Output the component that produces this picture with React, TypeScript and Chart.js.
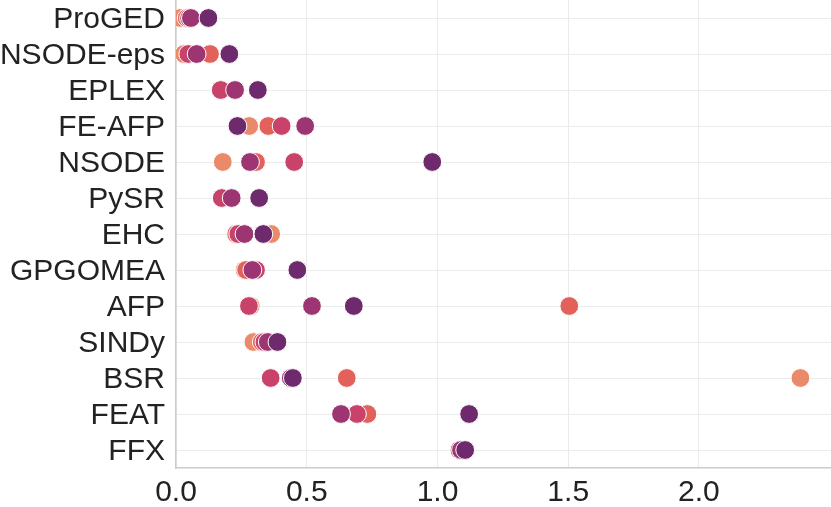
import React, { useEffect, useRef } from "react";
import { Chart, registerables } from "chart.js";

Chart.register(...registerables);

const categories = [
  "ProGED", "NSODE-eps", "EPLEX", "FE-AFP", "NSODE", "PySR", "EHC",
  "GPGOMEA", "AFP", "SINDy", "BSR", "FEAT", "FFX",
];

// five hue levels (light orange -> dark purple)
const level0 = [0.015, 0.03, 0.172, 0.28, 0.179, 0.175, 0.364, 0.262, 0.286, 0.296, 2.388, 0.73, 1.09];
const level1 = [0.041, 0.13, 0.172, 0.353, 0.306, 0.178, 0.23, 0.268, 1.504, 0.328, 0.653, 0.732, 1.09];
const level2 = [0.05, 0.047, 0.171, 0.404, 0.452, 0.175, 0.238, 0.306, 0.279, 0.338, 0.362, 0.692, 1.084];
const level3 = [0.057, 0.079, 0.226, 0.494, 0.283, 0.213, 0.262, 0.292, 0.52, 0.351, 0.439, 0.631, 1.09];
const level4 = [0.124, 0.204, 0.313, 0.235, 0.98, 0.318, 0.334, 0.464, 0.68, 0.388, 0.447, 1.121, 1.106];

const levels = [level0, level1, level2, level3, level4];
const levelColors = ["#ea8a6a", "#e2615b", "#c8426a", "#9c3572", "#6f2a6e"];

const xTicks = [0, 0.5, 1.0, 1.5, 2.0];
const xMin = 0;
const xMax = 2.505;

export default function App() {
  const ref = useRef<HTMLCanvasElement | null>(null);

  useEffect(() => {
    if (!ref.current) return;
    const datasets = levels.map((vals, li) => ({
      label: "level " + li,
      data: vals.map((v, i) => ({ x: v, y: categories[i] })),
      backgroundColor: levelColors[li],
      borderColor: "#ffffff",
      borderWidth: 1,
      pointRadius: 9.4,
      pointHoverRadius: 9.4,
      clip: 0,
      order: levels.length - li,
    }));
    const chart = new Chart(ref.current, {
      type: "scatter",
      data: { datasets } as any,
      options: {
        animation: false,
        responsive: false,
        maintainAspectRatio: false,
        layout: { padding: 0, autoPadding: false },
        plugins: { legend: { display: false }, tooltip: { enabled: false } },
        scales: {
          x: {
            type: "linear",
            min: xMin,
            max: xMax,
            afterBuildTicks: (scale: any) => {
              scale.ticks = xTicks.map((v) => ({ value: v }));
            },
            afterFit: (scale: any) => {
              scale.height = 39;
              scale.paddingLeft = 0;
              scale.paddingRight = 0;
            },
            ticks: {
              callback: (v: any) => Number(v).toFixed(1),
              font: { family: "Liberation Sans", size: 30 },
              color: "#222222",
              padding: 7,
              maxRotation: 0,
              autoSkip: false,
            },
            grid: { color: "#ebebeb", lineWidth: 1, drawTicks: false },
            border: { color: "#cccccc", width: 1.5 },
          },
          y: {
            type: "category",
            labels: categories,
            offset: true,
            afterFit: (scale: any) => {
              scale.width = 176;
              scale.paddingTop = 0;
              scale.paddingBottom = 0;
            },
            ticks: {
              font: { family: "Liberation Sans", size: 30 },
              color: "#222222",
              padding: 11,
              labelOffset: 2,
              autoSkip: false,
            },
            grid: { color: "#ebebeb", lineWidth: 1, drawTicks: false, offset: false },
            border: { color: "#cccccc", width: 1.5 },
          },
        },
      },
    });
    return () => chart.destroy();
  }, []);

  return (
    <div style={{ position: "absolute", left: 0, top: 0, width: 831, height: 507, background: "#fff" }}>
      <canvas ref={ref} width={831} height={507} style={{ width: 831, height: 507 }} />
    </div>
  );
}
